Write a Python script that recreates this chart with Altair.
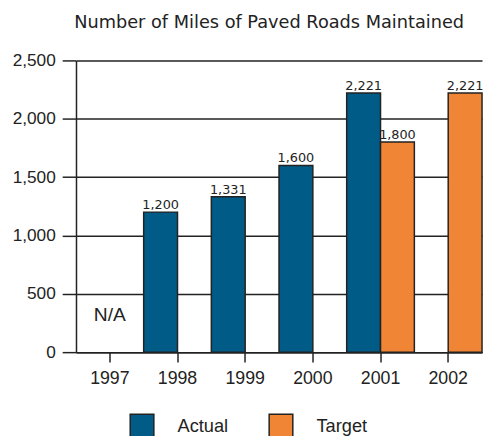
import altair as alt
import pandas as pd

years = ["1997", "1998", "1999", "2000", "2001", "2002"]
series_names = ["Actual", "Target"]
actual = [None, 1200, 1331, 1600, 2221, None]
target = [None, None, None, None, 1800, 2221]
na_year = ["1997"]
na_text = ["N/A"]
na_y = [320]
title_text = "Number of Miles of Paved Roads Maintained"
y_ticks = [0, 500, 1000, 1500, 2000, 2500]
colors = ["#005b86", "#ef8535"]

rows = []
for yr, a, t in zip(years, actual, target):
    if a is not None:
        rows.append({"year": yr, "series": "Actual", "value": a})
    if t is not None:
        rows.append({"year": yr, "series": "Target", "value": t})
df = pd.DataFrame(rows)
na_df = pd.DataFrame({"year": na_year, "text": na_text, "y": na_y})

FONT = "Liberation Sans"
WIDE = "DejaVu Sans"
INK = "#222222"

x_scale = alt.Scale(domain=years, paddingInner=0, paddingOuter=0)
xo_scale = alt.Scale(domain=series_names, paddingInner=0, paddingOuter=0)

x_enc = alt.X("year:N", scale=x_scale,
              axis=alt.Axis(title=None, labelAngle=0, labelFontSize=18, labelPadding=8,
                            tickSize=10, tickWidth=1.5, domain=True, domainWidth=1.5,
                            grid=False, labelFont=FONT, labelColor=INK))
y_enc = alt.Y("value:Q", scale=alt.Scale(domain=[0, 2500], nice=False),
              axis=alt.Axis(title=None, values=y_ticks, format=",d", labelFontSize=17.5,
                            labelPadding=7, tickSize=14, tickWidth=1.5, domainWidth=1.5,
                            grid=True, gridColor=INK, gridWidth=1.5, gridOpacity=1,
                            labelFont=FONT, labelColor=INK))

bars = alt.Chart(df).mark_bar(stroke=INK, strokeWidth=1.5, opacity=1).encode(
    x=x_enc,
    xOffset=alt.XOffset("series:N", scale=xo_scale),
    y=y_enc,
    color=alt.Color("series:N", scale=alt.Scale(domain=series_names, range=colors),
                    legend=alt.Legend(title=None, orient="none", legendX=54, legendY=358,
                                      direction="horizontal", symbolType="square",
                                      symbolSize=576, symbolStrokeColor=INK,
                                      symbolStrokeWidth=1.5, symbolOpacity=1,
                                      labelFontSize=18.5, labelFont=FONT, labelColor=INK,
                                      labelOffset=23, columnPadding=38)),
)

labels = alt.Chart(df).mark_text(baseline="alphabetic", dy=-3, fontSize=13, font=WIDE,
                                 color=INK).encode(
    x=alt.X("year:N", scale=x_scale),
    xOffset=alt.XOffset("series:N", scale=xo_scale),
    y=alt.Y("value:Q"),
    text=alt.Text("value:Q", format=","),
)

na = alt.Chart(na_df).mark_text(baseline="middle", fontSize=19.5, font=FONT, color=INK).encode(
    x=alt.X("year:N"),
    y=alt.Y("y:Q"),
    text="text:N",
)

chart = alt.layer(bars, labels, na).properties(
    width=412,
    height=296,
    padding={"left": 4, "top": 3, "right": 0, "bottom": 0},
    title=alt.TitleParams(title_text, fontSize=18, font=WIDE, fontWeight="normal",
                          color=INK, anchor="middle", dx=-10, offset=20),
).configure_view(stroke=None).configure_axis(
    domainColor=INK, tickColor=INK
)

chart.save("out.html", embed_options={"renderer": "svg", "actions": False})
